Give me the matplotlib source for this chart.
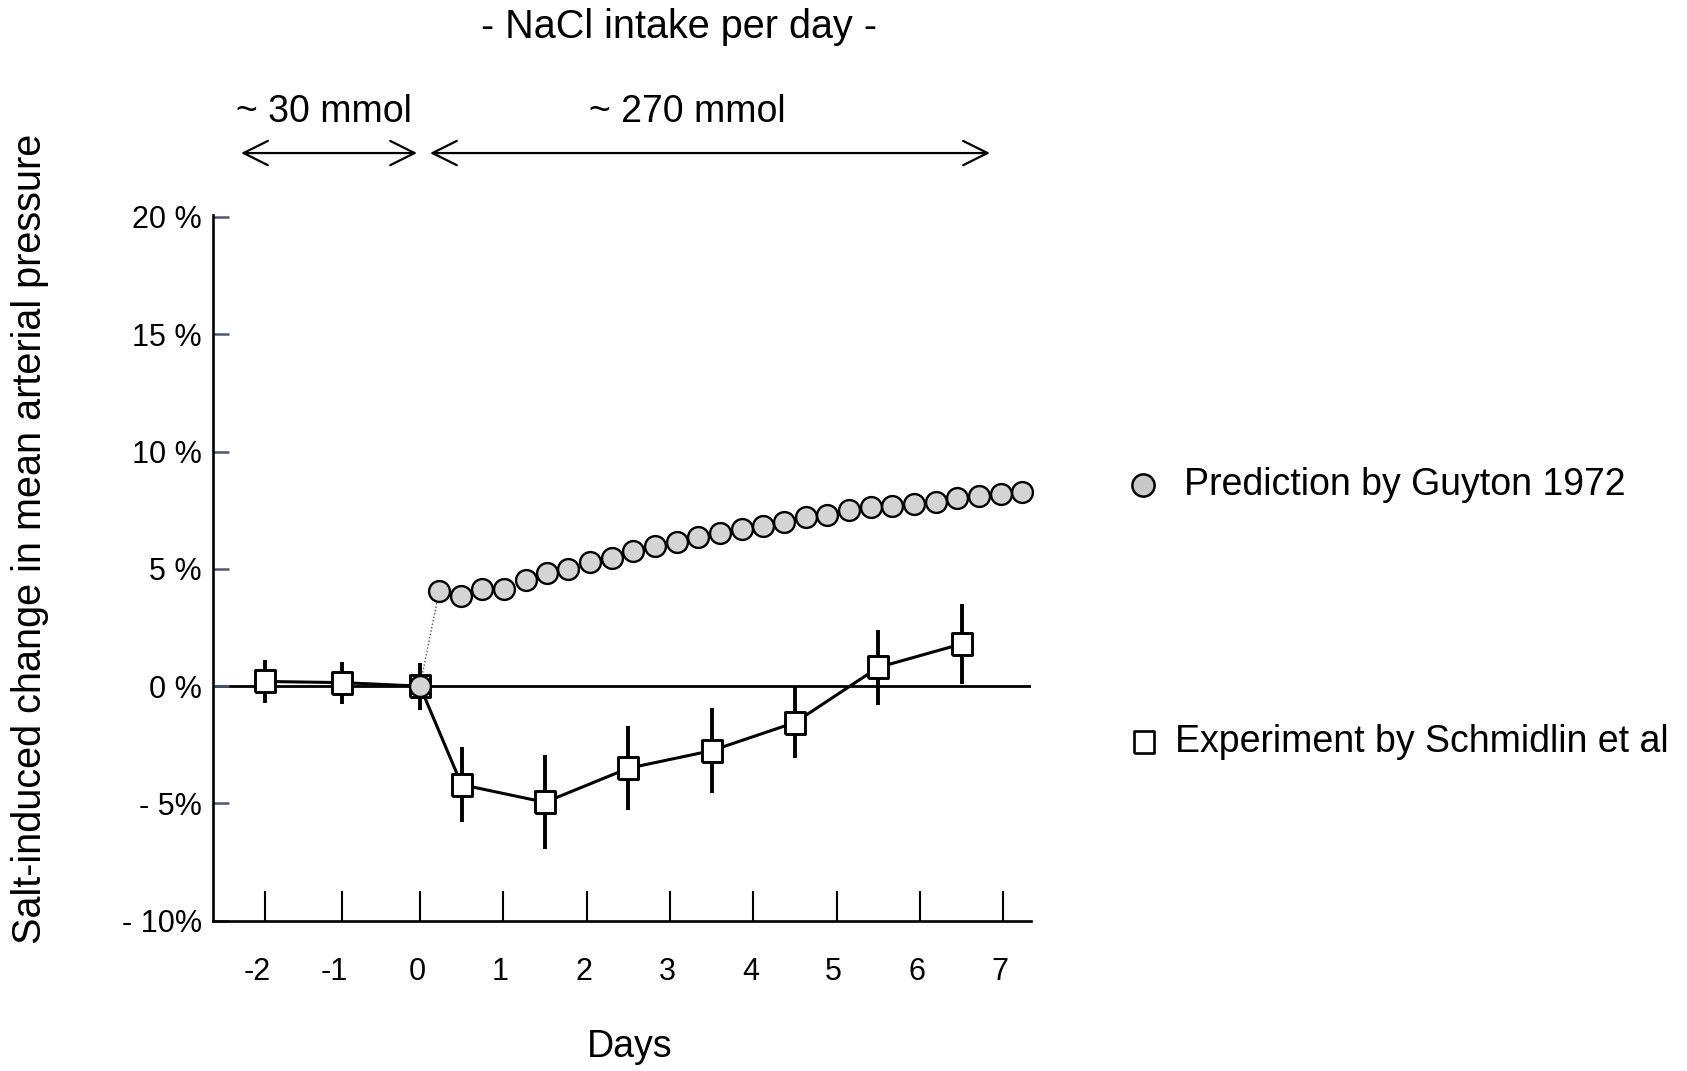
import numpy as np
import matplotlib
matplotlib.use('Agg')
import matplotlib.pyplot as plt
import matplotlib.transforms as mtransforms
from matplotlib.lines import Line2D

plt.rcParams['font.family'] = ['Liberation Sans', 'DejaVu Sans']

# Experiment by Schmidlin et al (mean +/- error, % change)
exp_days = [-2, -1, 0, 0.5, 1.5, 2.5, 3.5, 4.5, 5.5, 6.5]
exp_change = [0.2, 0.15, 0.0, -4.2, -4.95, -3.5, -2.75, -1.55, 0.8, 1.8]
exp_err = [0.9, 0.9, 1.0, 1.6, 2.0, 1.8, 1.8, 1.5, 1.6, 1.7]

# Prediction by Guyton 1972 (first point is the day-0 baseline)
guyton_days = [0, 0.23, 0.49, 0.75, 1.01, 1.27, 1.53, 1.78, 2.04, 2.30, 2.56,
               2.82, 3.08, 3.34, 3.60, 3.86, 4.12, 4.37, 4.63, 4.89, 5.15,
               5.41, 5.67, 5.93, 6.19, 6.45, 6.71, 6.97, 7.22]
guyton_change = [0.0, 4.06, 3.86, 4.14, 4.13, 4.53, 4.81, 5.01, 5.28, 5.48,
                 5.78, 5.98, 6.16, 6.34, 6.54, 6.70, 6.84, 7.01, 7.21, 7.31,
                 7.49, 7.64, 7.68, 7.77, 7.86, 8.02, 8.10, 8.18, 8.26]

day_ticks = [-2, -1, 0, 1, 2, 3, 4, 5, 6, 7]
pct_ticks = [-10, -5, 0, 5, 10, 15, 20]
pct_labels = ['- 10%', '- 5%', '0 %', '5 %', '10 %', '15 %', '20 %']

# the days before salt loading are drawn a bit narrower in the original
def fwd(x):
    x = np.asarray(x, dtype=float)
    return np.where(x < 0, 0.93 * x, x)

def inv(x):
    x = np.asarray(x, dtype=float)
    return np.where(x < 0, x / 0.93, x)

fig = plt.figure(figsize=(16.87, 10.71), dpi=100)
ax = fig.add_axes([0.1263, 0.1403, 0.4847, 0.6593])
ax.set_xscale('function', functions=(fwd, inv))

ax.axhline(0, color='black', lw=2, zorder=1)

# tall-ish square marker as in the original
rect = [(-0.88, -1), (0.88, -1), (0.88, 1), (-0.88, 1), (-0.88, -1)]

ax.errorbar(exp_days, exp_change, yerr=exp_err, fmt='none', ecolor='black',
            elinewidth=2.8, capsize=0, zorder=2)
ax.plot(exp_days, exp_change, color='black', lw=2.2, marker=rect, ms=16,
        mfc='white', mec='black', mew=2.1, zorder=3)

ax.plot(guyton_days[:2], guyton_change[:2], ls=(0, (1, 1.5)), color='#555555',
        lw=1, zorder=4)
ax.plot(guyton_days, guyton_change, ls='none', marker='o', ms=15,
        mfc='#d4d4d4', mec='black', mew=1.7, zorder=5, clip_on=False)

ax.set_xlim(-2.67, 7.33)
ax.set_ylim(-10, 20.1)
ax.set_xticks(day_ticks)
ax.set_xticklabels([str(d) for d in day_ticks])
ax.set_yticks(pct_ticks)
ax.set_yticklabels(pct_labels)

for side in ['top', 'right']:
    ax.spines[side].set_visible(False)
for side in ['left', 'bottom']:
    ax.spines[side].set_linewidth(1.9)

ax.tick_params(axis='y', direction='in', length=11.5, width=1.8,
               color='#4d5a6b', labelsize=22, pad=8)
ax.tick_params(axis='x', direction='in', length=21.5, width=1.5,
               color='black', labelsize=22, pad=26)
ax.minorticks_off()

# day labels sit a little left of their ticks in the original
for d, lbl in zip(day_ticks, ax.get_xticklabels()):
    dx = -8 if d < 0 else -3
    lbl.set_transform(lbl.get_transform() +
                      mtransforms.ScaledTranslation(dx / 100, 0, fig.dpi_scale_trans))

ax.set_xlabel('Days', fontsize=27, labelpad=30, x=0.509)
fig.text(0.0178, 0.4967, 'Salt-induced change in mean arterial pressure',
         rotation=90, ha='center', va='center', fontsize=28.5)

# header: intake periods
fig.text(0.4025, 0.9748, '- NaCl intake per day -', ha='center', va='center', fontsize=28.5)
fig.text(0.1921, 0.8954, '~ 30 mmol', ha='center', va='center', fontsize=27)
fig.text(0.4072, 0.8954, '~ 270 mmol', ha='center', va='center', fontsize=27)

arrow = dict(arrowstyle='<->,head_length=0.7,head_width=0.35', lw=1.6,
             color='black', mutation_scale=25, shrinkA=0, shrinkB=0)
fig.add_artist(matplotlib.patches.FancyArrowPatch(
    (0.1429, 0.8571), (0.2472, 0.8571), transform=fig.transFigure, **arrow))
fig.add_artist(matplotlib.patches.FancyArrowPatch(
    (0.2549, 0.8571), (0.5868, 0.8571), transform=fig.transFigure, **arrow))

# legend drawn by hand, entries far apart
fig.add_artist(Line2D([0.6776], [0.5472], transform=fig.transFigure, ls='none',
                      marker='o', ms=16, mfc='#c8c8c8', mec='black', mew=1.8))
fig.text(0.7019, 0.5472, 'Prediction by Guyton 1972', ha='left', va='center', fontsize=27)
fig.add_artist(Line2D([0.6781], [0.3072], transform=fig.transFigure, ls='none',
                      marker=rect, ms=16, mfc='white', mec='black', mew=1.9))
fig.text(0.6965, 0.3072, 'Experiment by Schmidlin et al', ha='left', va='center', fontsize=27)

fig.savefig('out.png', dpi=100)
